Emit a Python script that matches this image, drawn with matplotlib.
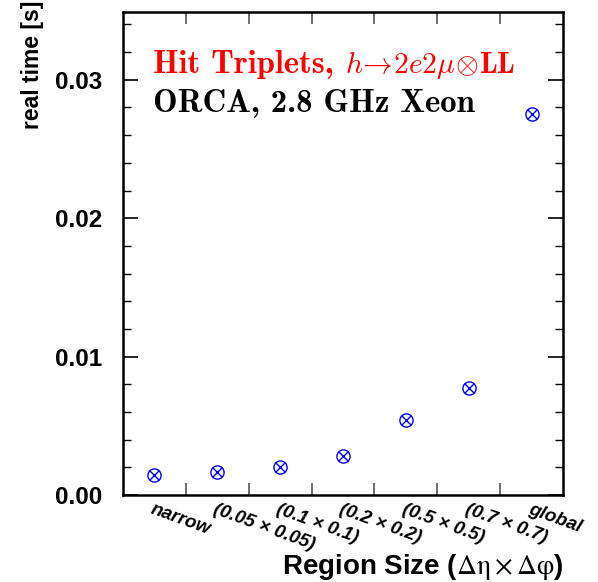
import numpy as np
import matplotlib
matplotlib.use('Agg')
import matplotlib.pyplot as plt

# region sizes and measured times
regions = ['narrow', '(0.05 × 0.05)', '(0.1 × 0.1)', '(0.2 × 0.2)',
           '(0.5 × 0.5)', '(0.7 × 0.7)', 'global']
real_time = [0.00144, 0.00168, 0.00200, 0.00283, 0.00542, 0.00773, 0.02755]

plt.rcParams['font.family'] = 'Liberation Sans'

fig = plt.figure(figsize=(5.98, 5.82), dpi=100)
ax = fig.add_axes([123 / 598, 87 / 582, 440 / 598, 483 / 582])

x = np.arange(len(regions)) + 0.5
ax.plot(x, real_time, ls='none', marker='o', mfc='none', mec='#0000ff',
        ms=9.5, mew=1.0)
ax.plot(x, real_time, ls='none', marker='x', mec='#0000ff', ms=7.5, mew=1.0)

ax.set_xlim(0, len(regions))
ax.set_ylim(0, 0.0349)

# bin edges as ticks, names at bin centres
ax.set_xticks(np.arange(1, len(regions)))
ax.set_xticklabels([])
ax.set_xticks(x, regions, minor=True)
ax.tick_params(axis='x', which='major', direction='in', top=True,
               length=8.5, width=1.2, color='#555555')
ax.tick_params(axis='x', which='minor', length=0, pad=4)
for lab in ax.get_xticklabels(minor=True):
    lab.set_rotation(-20)
    lab.set_rotation_mode('anchor')
    lab.set_ha('left')
    lab.set_va('top')
    lab.set_fontsize(13.5)
    lab.set_fontweight('bold')
    lab.set_fontstyle('italic')

ax.set_yticks([0.0, 0.01, 0.02, 0.03])
ax.set_yticklabels(['0.00', '0.01', '0.02', '0.03'])
ax.set_yticks(np.arange(0, 0.035, 0.002), minor=True)
ax.tick_params(axis='y', which='major', direction='in', right=True,
               length=11, width=1.2, labelsize=17.5, pad=15)
ax.tick_params(axis='y', which='minor', direction='in', right=True,
               length=5.8, width=1.0)
for lab in ax.get_yticklabels():
    lab.set_fontweight('bold')
    lab.set_va('center_baseline')

for s in ax.spines.values():
    s.set_linewidth(1.8)

ax.set_ylabel('real time [s]', fontsize=16.5, fontweight='bold')
ax.yaxis.set_label_coords(-0.18, 0.891)
ax.set_xlabel(r'Region Size ($\mathrm{\Delta\eta\times\Delta\varphi}$)',
              fontsize=20, fontweight='bold', ha='right',
              math_fontfamily='stix')
ax.xaxis.set_label_coords(1.0, -0.117)

ax.text(0.068, 0.874, 'Hit Triplets,', transform=ax.transAxes,
        color='#ff0000', fontsize=23.5, family='cmb10',
        va='baseline', ha='left')
ax.text(0.5045, 0.874,
        r'$h\!\rightarrow\!2e2\mu\!\otimes\!\mathbf{LL}$',
        transform=ax.transAxes, color='#ff0000', fontsize=21.3,
        math_fontfamily='cm', va='baseline', ha='left')
ax.text(0.068, 0.793, 'ORCA, 2.8 GHz Xeon',
        transform=ax.transAxes, color='black', fontsize=23.6,
        family='cmb10', va='baseline', ha='left')

fig.savefig('out.png', dpi=100)
